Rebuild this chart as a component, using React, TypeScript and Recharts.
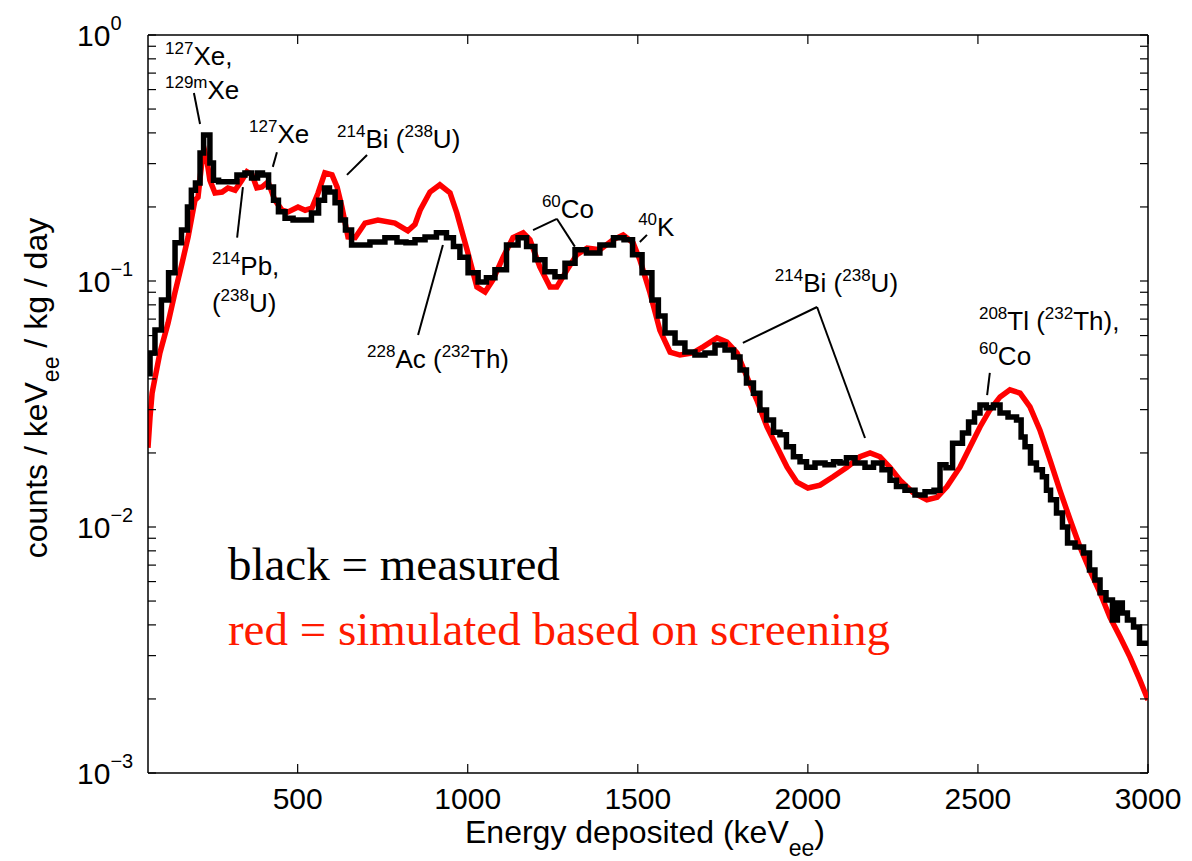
import { LineChart, Line, XAxis, YAxis, ReferenceLine, ReferenceDot } from 'recharts';

// measured spectrum (black), energy in keVee and rate in counts/keVee/kg/day
const measuredEnergy = [
  60, 72, 89, 110, 131, 148, 169, 183, 192, 207, 219, 228, 236, 248, 257, 278, 307, 336, 354, 375,
  389, 404, 425, 433, 454, 472, 501, 530, 551, 572, 586, 601, 619, 633, 648, 669, 689, 736, 777, 807,
  830, 860, 889, 927, 948, 968, 986, 1016, 1045, 1065, 1095, 1133, 1163, 1183, 1212, 1242, 1271, 1301, 1330, 1368,
  1409, 1448, 1471, 1498, 1527, 1556, 1565, 1595, 1624, 1653, 1683, 1712, 1742, 1771, 1792, 1809, 1830, 1850, 1868, 1889,
  1909, 1927, 1947, 1968, 1986, 2006, 2036, 2065, 2086, 2103, 2124, 2153, 2183, 2203, 2233, 2250, 2271, 2300, 2330, 2359,
  2383, 2394, 2418, 2433, 2447, 2462, 2483, 2497, 2515, 2535, 2556, 2574, 2603, 2624, 2630, 2647, 2662, 2682, 2697, 2706,
  2721, 2741, 2756, 2771, 2800, 2821, 2835, 2853, 2865, 2888, 2903, 2917, 2932, 2947, 2968, 2982, 3000,
];
const measuredRate = [
  0.042, 0.051, 0.0632, 0.0837, 0.108, 0.143, 0.161, 0.2, 0.234, 0.25, 0.331, 0.392, 0.392, 0.302, 0.257, 0.253, 0.253, 0.27, 0.275, 0.262,
  0.275, 0.27, 0.241, 0.213, 0.191, 0.18, 0.177, 0.177, 0.189, 0.213, 0.239, 0.23, 0.208, 0.177, 0.161, 0.14, 0.14, 0.144, 0.15, 0.144,
  0.143, 0.147, 0.151, 0.157, 0.15, 0.138, 0.125, 0.108, 0.099, 0.103, 0.111, 0.14, 0.15, 0.138, 0.122, 0.109, 0.104, 0.118, 0.134, 0.13,
  0.14, 0.15, 0.147, 0.128, 0.108, 0.0837, 0.072, 0.0615, 0.056, 0.0514, 0.05, 0.051, 0.0549, 0.0524, 0.0491, 0.0435, 0.0385, 0.035, 0.0299, 0.0272,
  0.0243, 0.0237, 0.0212, 0.0193, 0.0184, 0.0175, 0.0182, 0.0179, 0.0184, 0.0182, 0.0191, 0.0182, 0.0175, 0.0182, 0.0171, 0.0155, 0.0146, 0.0141, 0.0135, 0.0139,
  0.0141, 0.0179, 0.0174, 0.0219, 0.0219, 0.0241, 0.0267, 0.0291, 0.0313, 0.0305, 0.0313, 0.0291, 0.028, 0.0272, 0.0232, 0.0212, 0.0182, 0.0171, 0.016, 0.0141,
  0.0129, 0.0114, 0.01, 0.00861, 0.00829, 0.00784, 0.00668, 0.00609, 0.0054, 0.00505, 0.00419, 0.00491, 0.00447, 0.00419, 0.00392, 0.00337, 0.00337,
];

// simulation based on screening (red)
const simulatedEnergy = [
  60, 66, 72, 80, 95, 119, 139, 160, 178, 198, 207, 219, 228, 233, 242, 257, 278, 295, 316, 336,
  351, 366, 380, 395, 413, 433, 454, 472, 501, 522, 542, 560, 580, 601, 616, 630, 648, 669, 698, 736,
  786, 824, 845, 860, 889, 918, 948, 968, 998, 1027, 1051, 1074, 1104, 1133, 1163, 1183, 1212, 1242, 1262, 1292,
  1321, 1351, 1389, 1427, 1457, 1486, 1506, 1536, 1565, 1595, 1624, 1662, 1692, 1733, 1762, 1792, 1821, 1850, 1880, 1909,
  1939, 1968, 2000, 2036, 2074, 2115, 2153, 2183, 2212, 2241, 2271, 2309, 2350, 2380, 2409, 2447, 2477, 2506, 2535, 2565,
  2594, 2624, 2653, 2682, 2712, 2741, 2771, 2800, 2829, 2859, 2888, 2918, 2947, 2976, 3000,
];
const simulatedRate = [
  0.021, 0.028, 0.035, 0.04, 0.051, 0.0675, 0.0894, 0.118, 0.151, 0.213, 0.219, 0.31, 0.331, 0.31, 0.257, 0.228, 0.23, 0.239, 0.234, 0.257,
  0.278, 0.27, 0.239, 0.241, 0.253, 0.213, 0.194, 0.191, 0.2, 0.194, 0.198, 0.228, 0.275, 0.27, 0.241, 0.2, 0.151, 0.15, 0.172, 0.177,
  0.172, 0.16, 0.17, 0.194, 0.23, 0.246, 0.228, 0.189, 0.134, 0.0946, 0.0902, 0.101, 0.125, 0.15, 0.157, 0.147, 0.114, 0.0946, 0.0946, 0.111,
  0.128, 0.136, 0.134, 0.147, 0.154, 0.143, 0.122, 0.0894, 0.063, 0.0514, 0.05, 0.051, 0.054, 0.0587, 0.0565, 0.051, 0.0407, 0.0328, 0.0255, 0.0212,
  0.0175, 0.0152, 0.0144, 0.0148, 0.016, 0.0175, 0.0193, 0.02, 0.0193, 0.0175, 0.0155, 0.0138, 0.0129, 0.0132, 0.0146, 0.0175, 0.0212, 0.0255, 0.0299, 0.0338,
  0.0361, 0.035, 0.0308, 0.0248, 0.0187, 0.0141, 0.0107, 0.00829, 0.00668, 0.0054, 0.0043, 0.00357, 0.00296, 0.00239, 0.00198,
];

const xTicks = [500, 1000, 1500, 2000, 2500, 3000];
const yTicks: number[] = [];
for (const d of [-3, -2, -1]) {
  for (let m = 1; m <= 9; m++) yTicks.push(Number((m * 10 ** d).toPrecision(2)));
}
yTicks.push(1);

// annotation text (start energy, baseline rate); ^{..} marks a superscript
const notes = [
  { e: 110, v: 0.755, text: '^{127}Xe,' },
  { e: 110, v: 0.549, text: '^{129m}Xe' },
  { e: 357, v: 0.364, text: '^{127}Xe' },
  { e: 616, v: 0.347, text: '^{214}Bi (^{238}U)' },
  { e: 248, v: 0.106, text: '^{214}Pb,' },
  { e: 248, v: 0.0748, text: '(^{238}U)' },
  { e: 704, v: 0.0443, text: '^{228}Ac (^{232}Th)' },
  { e: 1218, v: 0.18, text: '^{60}Co' },
  { e: 1501, v: 0.152, text: '^{40}K' },
  { e: 1903, v: 0.0902, text: '^{214}Bi (^{238}U)' },
  { e: 2503, v: 0.0632, text: '^{208}Tl (^{232}Th),' },
  { e: 2503, v: 0.0456, text: '^{60}Co' },
];
const leaders = [
  [[195, 0.581], [213, 0.435]],
  [[439, 0.334], [427, 0.291]],
  [[704, 0.325], [645, 0.27]],
  [[339, 0.241], [322, 0.15]],
  [[927, 0.14], [854, 0.0603]],
  [[1192, 0.161], [1262, 0.179]],
  [[1262, 0.179], [1315, 0.138]],
  [[1506, 0.144], [1527, 0.154]],
  [[1809, 0.056], [2027, 0.0784]],
  [[2027, 0.0784], [2168, 0.023]],
  [[2535, 0.0423], [2527, 0.0344]],
];

const measured = measuredEnergy.map((e, i) => ({ e, v: measuredRate[i] }));
const simulated = simulatedEnergy.map((e, i) => ({ e, v: simulatedRate[i] }));

const PLOT_LEFT = 148;
const PLOT_RIGHT = 1148;
const PLOT_TOP = 35;
const PLOT_BOTTOM = 773;
const SANS = '"Liberation Sans", Arial, sans-serif';
const SERIF = '"Liberation Serif", "Times New Roman", serif';

function rich(text: string, size: number, sup: number, rise: number) {
  const parts = text.match(/\^\{[^}]*\}|[^^]+/g) || [];
  let up = false;
  return parts.map((p, i) => {
    if (p.startsWith('^{')) {
      const dy = up ? 0 : -rise;
      up = true;
      return <tspan key={i} fontSize={sup} dy={dy}>{p.slice(2, -1)}</tspan>;
    }
    const dy = up ? rise : 0;
    up = false;
    return <tspan key={i} fontSize={size} dy={dy}>{p}</tspan>;
  });
}

function YTick({ y, payload }: any) {
  const v = payload.value;
  const lg = Math.log10(v);
  const exp = Math.round(lg);
  const major = Math.abs(lg - exp) < 1e-6;
  return (
    <g>
      <line x1={PLOT_LEFT} x2={PLOT_LEFT + 8} y1={y} y2={y} stroke="#000" strokeWidth={1.2} />
      <line x1={PLOT_RIGHT} x2={PLOT_RIGHT - 8} y1={y} y2={y} stroke="#000" strokeWidth={1.2} />
      {major && (
        <text x={77} y={y + 11} fontSize={30} fontFamily={SANS} fill="#000">
          10
          <tspan fontSize={20} dy={-16}>{exp === 0 ? '0' : '\u2212' + -exp}</tspan>
        </text>
      )}
    </g>
  );
}

function XTick({ x, payload }: any) {
  return (
    <g>
      <line x1={x} x2={x} y1={PLOT_BOTTOM} y2={PLOT_BOTTOM - 9} stroke="#000" strokeWidth={1.2} />
      <line x1={x} x2={x} y1={PLOT_TOP} y2={PLOT_TOP + 9} stroke="#000" strokeWidth={1.2} />
      <text x={x} y={809} textAnchor="middle" fontSize={30} fontFamily={SANS} fill="#000">
        {payload.value}
      </text>
    </g>
  );
}

export default function App() {
  return (
    <div style={{ position: 'absolute', left: 0, top: 0, background: '#fff' }}>
      <LineChart
        width={1192}
        height={861}
        margin={{ top: PLOT_TOP, right: 1192 - PLOT_RIGHT, left: 0, bottom: 0 }}
        style={{ fontFamily: SANS }}
      >
        <XAxis
          type="number"
          dataKey="e"
          domain={[60, 3000]}
          allowDataOverflow
          ticks={xTicks}
          interval={0}
          height={861 - PLOT_BOTTOM}
          tickLine={false}
          axisLine={{ stroke: '#000', strokeWidth: 1.5 }}
          tick={<XTick />}
          label={{
            content: (p: any) => (
              <text x={p.viewBox.x + p.viewBox.width / 2 - 3} y={p.viewBox.y + 70} textAnchor="middle" fontFamily={SANS} fill="#000">
                <tspan fontSize={32}>Energy deposited (keV</tspan>
                <tspan fontSize={23} dy={13}>ee</tspan>
                <tspan fontSize={32} dy={-13}>)</tspan>
              </text>
            ),
          }}
        />
        <YAxis
          type="number"
          scale="log"
          domain={[0.001, 1]}
          allowDataOverflow
          ticks={yTicks}
          interval={0}
          width={PLOT_LEFT}
          tickLine={false}
          axisLine={{ stroke: '#000', strokeWidth: 1.5 }}
          tick={<YTick />}
          label={{
            content: (p: any) => {
              const cx = p.viewBox.x + 47;
              const cy = p.viewBox.y + p.viewBox.height / 2 - 16;
              return (
                <text x={cx} y={cy} transform={`rotate(-90 ${cx} ${cy})`} textAnchor="middle" fontFamily={SANS} fill="#000">
                  <tspan fontSize={32}>counts / keV</tspan>
                  <tspan fontSize={23} dy={12}>ee</tspan>
                  <tspan fontSize={32} dy={-12}> / kg / day</tspan>
                </text>
              );
            },
          }}
        />
        <ReferenceLine y={1} stroke="#000" strokeWidth={1.5} />
        <ReferenceLine x={3000} stroke="#000" strokeWidth={1.5} />

        <Line data={simulated} dataKey="v" type="linear" stroke="#ff0000" strokeWidth={5.5} dot={false} isAnimationActive={false} />
        <Line data={measured} dataKey="v" type="step" stroke="#000" strokeWidth={5.5} dot={false} isAnimationActive={false} />

        {leaders.map((s, i) => (
          <ReferenceLine
            key={'l' + i}
            segment={[{ x: s[0][0], y: s[0][1] }, { x: s[1][0], y: s[1][1] }]}
            stroke="#000"
            strokeWidth={2}
          />
        ))}
        {notes.map((n, i) => (
          <ReferenceDot
            key={'n' + i}
            x={n.e}
            y={n.v}
            r={1}
            shape={(p: any) => (
              <text x={p.cx} y={p.cy} fontFamily={SANS} fill="#000">
                {rich(n.text, 26, 17, 11)}
              </text>
            )}
          />
        ))}
        <ReferenceDot
          x={295}
          y={0.0061}
          r={1}
          shape={(p: any) => (
            <text x={p.cx} y={p.cy} fontFamily={SERIF} fontSize={47} fill="#000">
              black = measured
            </text>
          )}
        />
        <ReferenceDot
          x={295}
          y={0.00331}
          r={1}
          shape={(p: any) => (
            <text x={p.cx} y={p.cy} fontFamily={SERIF} fontSize={47} fill="#ff1a00">
              red = simulated based on screening
            </text>
          )}
        />
      </LineChart>
    </div>
  );
}
